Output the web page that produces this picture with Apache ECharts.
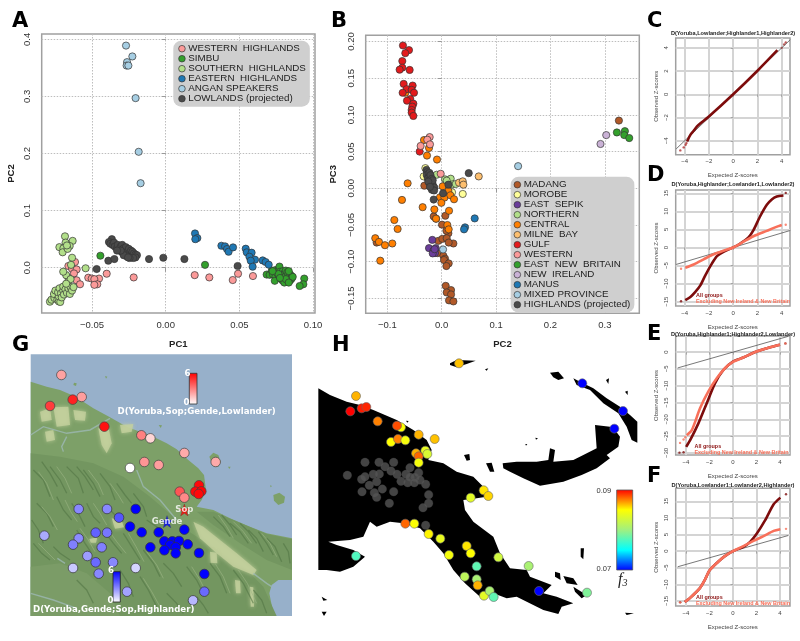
<!DOCTYPE html>
<html><head><meta charset="utf-8">
<style>html,body{margin:0;padding:0;background:#fff}#c{width:800px;height:641px}</style>
<script src="https://cdn.jsdelivr.net/npm/echarts@6/dist/echarts.min.js"></script>
</head><body><div id="c"></div>
<script>
// ---------- Panel A (PC1, PC2) ----------
const aWesternHighlands=[[-.0615,.01],[-.066,.003],[-.0635,-.002],[-.0604,-.003],[-.0622,-.01],[-.0604,-.022],[-.0581,-.029],[-.0525,-.0175],[-.0502,-.019],[-.0452,-.019],[-.0484,-.02],[-.0464,-.029],[-.0484,-.03],[-.04,-.0105],[-.0217,-.017],[.0197,-.013],[.0296,-.017],[.0455,-.0216],[.0491,-.0105],[.0592,-.0146]];
const aSimbu=[[-.0443,.021],[.0267,.005],[.094,-.019],[.0934,-.029],[.0909,-.032],[.0685,-.012],[.0705,-.0125],[.072,-.005],[.0735,-.008],[.0745,-.004],[.0728,-.012],[.0745,-.015],[.0755,-.009],[.0765,-.003],[.0772,.002],[.0775,-.007],[.078,-.013],[.0768,-.017],[.0785,-.02],[.074,-.023],[.0795,-.006],[.0805,-.01],[.081,-.016],[.0795,-.023],[.0815,-.005],[.0825,-.008],[.083,-.012],[.0835,-.016],[.0845,-.012],[.0855,-.015],[.0835,-.021],[.082,-.024],[.0805,-.026],[.0845,-.022],[.0855,-.019],[.0862,-.016],[.0765,-.011],[.0725,-.006],[.0835,-.006],[.0815,-.02],[.0775,-.018],[.0835,-.026]];
const aSouthernHighlands=[[-.0683,.055],[-.0679,.044],[-.0631,.047],[-.0651,.038],[-.0721,.036],[-.0694,.034],[-.0699,.027],[-.0665,.033],[-.067,.039],[-.0635,.0175],[-.0642,.005],[-.0543,-.001],[-.0785,-.0595],[-.0775,-.056],[-.0755,-.053],[-.0758,-.046],[-.0748,-.04],[-.0735,-.056],[-.0725,-.059],[-.0715,-.06],[-.0725,-.05],[-.073,-.043],[-.072,-.036],[-.071,-.045],[-.0705,-.052],[-.0695,-.04],[-.0695,-.033],[-.069,-.047],[-.068,-.038],[-.067,-.044],[-.066,-.036],[-.0665,-.027],[-.065,-.046],[-.0645,-.034],[-.0635,-.04],[-.066,-.018],[-.0675,-.013],[-.0645,-.02],[-.0695,-.007],[-.0625,-.034],[-.0675,-.028]];
const aEasternHighlands=[[.0199,.06],[.0215,.052],[.0201,.05],[.0378,.0385],[.0403,.0374],[.0416,.0327],[.0427,.028],[.0457,.0356],[.0543,.0333],[.055,.0269],[.0583,.0263],[.0568,.0193],[.0606,.014],[.0577,.0123],[.059,.0018],[.0658,.0128],[.0678,.01],[.0699,.0053]];
const aAnganSpeakers=[[-.0269,.389],[-.0226,.37],[-.0262,.36],[-.0265,.354],[-.0253,.354],[-.0204,.297],[-.0183,.203],[-.017,.148]];
const aLowlands=[[-.0468,-.0023],[-.0389,.0123],[-.0348,.0152],[-.0113,.0152],[-.0016,.0175],[.0127,.0152],[.0488,.003],[-.0365,.05],[-.0385,.045],[-.0375,.042],[-.036,.04],[-.035,.044],[-.0345,.037],[-.033,.034],[-.0325,.04],[-.0315,.031],[-.0305,.037],[-.03,.028],[-.0295,.04],[-.0285,.034],[-.028,.026],[-.0275,.031],[-.027,.036],[-.026,.028],[-.0255,.023],[-.025,.033],[-.0245,.026],[-.024,.02],[-.0235,.03],[-.023,.024],[-.0225,.028],[-.022,.021],[-.0215,.025],[-.0205,.023],[-.0195,.022],[-.0205,.018],[-.022,.017],[-.0245,.017],[-.0265,.02],[-.0285,.022],[-.0305,.03],[-.0255,.018],[-.033,.03]];
const aTicksX=[-0.05,0,0.05,0.1], aTicksY=[0,0.1,0.2,0.3,0.4];
// ---------- Panel B (PC2, PC3) ----------
const bMadang=[[.3258,.0923],[-.0319,.0036],[-.0147,-.0383],[-.0104,-.0414],[.0067,-.0374],[.0006,-.0495],[.0123,-.0613],[.0086,-.0578],[-.0061,-.0716],[.0012,-.0689],[.0092,-.068],[.0215,-.0752],[.0129,-.0739],[-.0074,-.0883],[.0031,-.0919],[.0061,-.0959],[.0043,-.0977],[.0129,-.1023],[.0086,-.1059],[.0074,-.1329],[.0172,-.1387],[.0092,-.1419],[.0172,-.1446],[.0135,-.1527],[.0215,-.1541],[-.1196,-.0739]];
const bMorobe=[[-.03,.0275],[-.0331,.0162],[.0387,-.0077],[.019,-.0054]];
const bEastSepik=[[-.0172,-.0703],[-.0233,-.0815],[-.011,-.0815],[-.0153,-.0851],[-.0123,-.0883],[-.0165,-.0887],[-.013,-.083]];
const bNorthern=[[-.0092,.0185],[.0061,.0122],[.0166,.0131],[.0196,.0054],[.0258,.0059],[.0092,.0105]];
const bCentral=[[-.0325,.0658],[-.0233,.055],[-.027,.0446],[-.0086,.0392],[-.0626,.0068],[-.073,-.0158],[-.035,-.0257],[-.0871,-.0432],[-.081,-.0554],[-.1221,-.068],[-.1153,-.073],[-.1043,-.0775],[-.0908,-.0752],[-.1129,-.0986],[.0018,.0027],[-.0031,-.0122],[.005,-.0127],[-.0006,-.0198],[-.0135,-.0288],[-.0104,-.0414],[.0135,-.0306],[.0123,-.0036],[.016,-.0095],[.0227,-.0149],[.0104,-.05],[.0129,-.0559],[-.0668,.1302]];
const bMilneBay=[[.0681,.0162],[.0319,.0077],[.0387,.0095],[.0399,.005]];
const bGulf=[[-.0405,.05],[-.0712,.1946],[-.0601,.1883],[-.0669,.1842],[-.0724,.1734],[-.0724,.1644],[-.0773,.1617],[-.0589,.1613],[-.0699,.1423],[-.0534,.14],[-.0644,.1351],[-.0552,.1342],[-.0718,.1302],[-.0509,.1302],[-.0577,.1216],[-.0638,.1194],[-.0521,.1153],[-.054,.1113],[-.0552,.1068],[-.0552,.1032],[-.0521,.0986]];
const bWestern=[[-.0221,.0698],[-.0264,.0662],[-.0215,.0599],[-.0387,.0577],[-.0018,.0198]];
const bEastNewBritain=[[.3221,.0761],[.3368,.0779],[.3356,.0725],[.3448,.0685]];
const bNewIreland=[[.3025,.0725],[.292,.0604]];
const bManus=[[.0607,-.041],[.0429,-.0532],[.0411,-.0559]];
const bMixedProvince=[[.1405,.0302],[.0025,-.0833]];
const bHighlands=[[.0497,.0207],[.0123,.005],[.0025,-.0068],[-.0147,-.0153],[-.028,.025],[-.0265,.022],[-.025,.019],[-.0275,.018],[-.024,.016],[-.0225,.021],[-.0215,.014],[-.0255,.013],[-.023,.011],[-.0205,.018],[-.02,.01],[-.022,.007],[-.0195,.006],[-.018,.013],[-.0175,.008],[-.02,.003],[-.018,.002],[-.016,.004],[-.0155,-.001],[-.0135,.001],[-.018,-.002],[-.014,-.003],[-.0165,.011],[-.0245,.009],[-.0215,.002]];
const bTicksX=[-0.1,0,0.1,0.2,0.3], bTicksY=[-0.15,-0.1,-0.05,0,0.05,0.1,0.15,0.2];
// ---------- Panels C-F (expected, observed Z) ----------
const zTicksX=[-4,-2,0,2,4];
const cRef=[[-4.7,-4.7],[4.7,4.7]];
const cAll=[[-3.8,-4.06],[-3.53,-3.49],[-3.26,-3.14],[-2.99,-2.77],[-2.03,-1.94],[0,0],[2,2.03],[3.64,3.8]];
const cTail=[[-4.36,-4.83],[-4.08,-4.57],[-3.92,-4.34],[-3.85,-4.2],[4,4],[4.2,4.3],[4.33,4.46]];
const dAll=[[-3.95,-14.6],[-3.53,-13.7],[-3.12,-12.3],[-2.71,-10.5],[-2.3,-7.7],[-1.75,-4.4],[-1.34,-2.4],[-.8,-1.2],[0,0],[.58,1.1],[1.26,2.8],[1.67,4.8],[2.2,8.5],[2.77,11.8],[3.18,13.3],[3.59,14.1],[4.14,14.4]];
const dAllTail=[[-4.3,-14.9],[4.33,15.1]];
const dExcl=[[-3.95,-5.6],[-3.26,-4.7],[-2.44,-3.3],[-1.75,-2.1],[-.8,-.9],[0,0],[.85,1.6],[1.67,3.1],[2.77,4.6],[3.73,5.9],[4,6.2]];
const dExclTail=[[-4.3,-5.9],[4.33,6.3]];
const eAll=[[-3.98,-28.2],[-3.64,-26.2],[-2.94,-21.2],[-2.23,-15.2],[-1.53,-9.3],[-.82,-5.3],[0,-2.8],[.88,-1.6],[2,.2],[3.42,1.7],[4,2.2]];
const eAllTail=[[-4.55,-29.9],[-4.2,-29.8],[4.46,2.6]];
const eExcl=[[-3.93,-24.7],[-3.5,-23.2],[-2.8,-16.7],[-2.09,-11.7],[-1.38,-7.8],[-.68,-4.8],[0,-2.9],[.88,-1.6],[2,.2],[3.42,1.7],[4,2.2]];
const eExclTail=[[-4.5,-27],[-4.2,-26],[-4.05,-25.3],[4.46,2.6]];
const fAll=[[-4.1,-15.3],[-3.69,-14.2],[-2.83,-11.2],[-2.4,-8.7],[-1.97,-5.7],[-1.26,-3.2],[-.69,-1.5],[0,0],[.89,1.3],[1.46,2.8],[2.03,5.3],[2.74,9.3],[3.46,14.1],[4.03,16.1]];
const fAllTail=[[-4.49,-15.4],[4.51,17.1]];
const fExcl=[[-4.1,-15.3],[-3.69,-14.2],[-2.83,-11.2],[-2.4,-8.7],[-1.97,-5.7],[-1.26,-3.2],[-.69,-1.5],[0,0],[.89,1.5],[1.74,3.1],[2.6,4.5],[3.46,6.1],[4.03,6.6]];
const fExclTail=[[-4.49,-15.4],[4.51,6.7]];
// ---------- Panel G map values (map units, D statistic) ----------
const gLowlander=[[184,135,2.2],[245,201,2.3],[218,209,5.2],[150,228,4.6],[313,290,5.6],[424,316,3],[451,325,1],[553,369,2],[647,396,2],[433,396,2.5],[476,405,2.3],[390,414,0],[539,485,4],[553,503,2.8],[597,466,5.8],[586,485,5.8],[604,484,5.9],[596,492,5.8]];
const gHighlander=[[236,537,2.8],[321,537,2.8],[357,563,4],[407,537,6],[133,617,2],[236,625,2.7],[219,644,3],[287,608,3.7],[321,608,3.2],[305,652,3],[390,590,6],[425,607,6],[476,607,6],[553,599,6],[493,634,6],[517,634,6],[537,633,6],[510,645,6],[563,643,6],[451,652,6],[493,661,6],[527,652,6],[527,670,6],[597,669,6],[262,678,2.3],[287,697,3.5],[339,697,2.8],[219,714,1.3],[296,731,2.8],[407,714,1],[613,732,6],[381,785,2.2],[613,785,3.5],[579,811,1.7]];
const gSop=[[553,540]], gGende=[[501,575]];
const gLand=[
 [[92,155],[140,170],[180,180],[215,195],[250,215],[280,235],[330,262],[380,290],[420,305],[460,320],[500,340],[530,358],[565,390],[595,415],[612,435],[618,480],[605,510],[590,530],[640,540],[690,565],[750,590],[800,610],[876,625],[876,750],[835,750],[815,765],[808,790],[815,825],[820,858],[92,858]],
 [[628,380],[640,368],[655,375],[662,395],[655,410],[638,408]],
 [[820,495],[838,488],[855,500],[852,518],[835,525],[822,512]],
 [[222,158],[230,160],[228,168],[220,165]],[[315,138],[322,140],[318,146]],[[476,285],[486,286],[482,294]],[[684,410],[692,410],[688,417]],[[810,466],[816,468],[812,472]]];
const gMountain=[[[92,370],[180,380],[280,400],[370,440],[450,500],[520,560],[560,600],[620,640],[720,700],[790,770],[830,858],[92,858]],[[640,545],[700,570],[800,612],[876,628],[876,720],[800,690],[720,640],[640,585],[590,545]]];
const gPlain=[[[92,710],[180,700],[260,730],[330,790],[360,858],[92,858]]];
const gLight=[[[120,245],[150,235],[155,270],[125,275]],[[160,232],[205,230],[210,285],[170,290]],[[220,240],[258,245],[255,272],[225,270]],[[135,305],[160,300],[165,330],[140,335]],[[295,295],[325,290],[335,340],[320,370],[305,345]],[[360,285],[400,282],[395,305],[365,310]],[[580,575],[610,590],[660,630],[710,670],[770,720],[760,735],[700,710],[650,670],[600,625]],[[335,565],[365,572],[372,592],[345,596]],[[268,627],[292,622],[288,638],[272,638]],[[630,665],[650,668],[652,700],[632,698]],[[705,750],[720,752],[722,790],[708,790]],[[750,770],[760,772],[762,830],[752,830]]];
const gRivers=[[[92,315],[130,290],[200,310],[270,300],[330,265]],[[410,420],[430,470],[480,510],[530,570]],[[200,320],[185,350],[190,365]],[[172,685],[195,700]],[[92,790],[160,810],[230,835]],[[760,730],[800,760],[815,770]]];
const gRidges=[[[100,420],[130,450],[150,500]],[[125,395],[150,430],[172,470]],[[150,410],[180,450],[200,490]],[[200,410],[235,445],[250,490]],[[230,410],[255,440],[280,480]],[[250,420],[280,460],[300,500]],[[300,430],[330,470],[345,510]],[[350,460],[375,495],[395,520]],[[400,490],[430,530],[440,560]],[[110,520],[140,550],[160,590]],[[95,570],[115,600],[130,640]],[[170,500],[190,540],[215,570]],[[215,520],[235,550],[255,590]],[[260,520],[280,560],[300,580]],[[320,530],[345,555],[370,575]],[[440,570],[470,590],[490,610]],[[100,640],[125,670],[150,690]],[[160,650],[180,670],[210,690]],[[230,600],[255,640],[275,670]],[[310,600],[340,640],[365,670]],[[370,610],[395,650],[420,690]],[[430,660],[460,700],[480,740]],[[490,700],[520,730],[545,770]],[[560,710],[590,750],[610,790]],[[630,700],[660,740],[680,790]],[[700,720],[730,760],[760,820]],[[760,780],[785,810],[800,850]],[[420,740],[445,780],[470,830]],[[500,790],[530,820],[550,850]],[[640,560],[670,590],[690,620]],[[665,555],[690,585],[710,615]],[[690,580],[720,605],[745,640]],[[720,580],[745,605],[770,640]],[[745,600],[770,625],[790,665]],[[775,605],[800,640],[820,675]],[[800,625],[825,650],[845,695]],[[850,640],[865,665],[870,700]],[[590,800],[610,825],[625,850]],[[360,720],[385,760],[400,800]],[[230,750],[260,780],[280,820]]];
const gHighlights=[[[115,425],[140,460],[160,510]],[[170,410],[195,445],[215,490]],[[265,420],[295,460],[310,495]],[[330,460],[355,495],[370,520]],[[125,530],[150,560],[172,600]],[[195,510],[212,545],[232,575]],[[280,520],[300,550],[320,585]],[[115,640],[140,665],[165,690]],[[240,595],[265,630],[285,665]],[[325,600],[350,635],[378,670]],[[385,610],[408,650],[432,695]],[[440,665],[470,705],[490,745]],[[575,710],[600,750],[620,790]],[[645,700],[670,740],[690,790]],[[715,720],[742,760],[770,820]],[[655,555],[680,590],[700,625]],[[700,575],[730,605],[755,640]],[[785,610],[810,640],[830,680]],[[430,745],[455,785],[480,830]]];
// ---------- Panel H map values (map units, f3) ----------
const hLand=[
 [[25,145],[60,165],[110,185],[150,195],[190,210],[225,225],[260,240],[310,270],[350,300],[365,330],[355,360],[400,370],[440,395],[490,410],[520,440],[530,470],[500,475],[460,480],[465,510],[490,545],[530,575],[550,590],[570,640],[600,685],[650,690],[660,710],[725,735],[700,760],[740,770],[790,790],[755,800],[745,822],[700,810],[620,770],[590,775],[550,760],[510,770],[465,730],[430,690],[400,640],[370,605],[330,565],[280,550],[240,545],[200,560],[180,545],[160,590],[120,600],[55,605],[80,615],[130,630],[165,650],[130,680],[90,695],[50,690],[25,690]],
 [[578,370],[620,365],[680,365],[715,360],[720,325],[735,330],[730,365],[790,360],[820,345],[860,325],[855,255],[900,260],[915,270],[930,290],[925,320],[890,345],[900,355],[860,385],[815,405],[760,425],[690,437],[640,415],[600,395],[580,385]],
 [[790,115],[810,125],[850,145],[890,175],[930,200],[960,225],[982,245],[982,308],[965,300],[950,260],[925,220],[880,190],[840,150],[800,135]],
 [[420,70],[440,60],[497,62],[470,72],[440,82],[420,75]],
 [[720,98],[745,95],[762,115],[745,120],[730,112]],[[462,345],[478,342],[480,360],[470,362]],[[528,370],[545,368],[553,395],[540,395]],[[812,625],[822,625],[820,658],[812,650]],[[735,695],[750,700],[752,720],[735,710]],[[760,708],[790,715],[803,735],[770,730]],[[790,740],[830,765],[815,775],[795,755]],[[945,818],[972,820],[950,825]],[[35,770],[52,780],[40,782]],[[35,815],[50,815],[42,828]],[[888,120],[897,115],[895,132]],[[945,155],[953,152],[953,165]],[[525,88],[535,85],[530,92]],[[288,242],[296,243],[292,248]],[[646,312],[652,312],[648,317]],[[676,293],[684,295],[678,299]]];
const hNoData=[[165,367],[207,367],[251,367],[225,380],[243,393],[300,383],[112,406],[165,410],[155,418],[190,403],[208,402],[261,403],[288,403],[326,398],[178,436],[200,425],[273,424],[293,428],[300,412],[315,412],[330,420],[313,428],[347,433],[156,455],[193,458],[217,447],[251,455],[200,472],[356,464],[238,490],[356,490],[339,503],[347,556]];
const hF3=[[138,168,.0865],[121,214,.09],[155,205,.0895],[169,201,.0893],[203,244,.0875],[273,262,.0848],[261,257,.0885],[243,306,.085],[264,297,.0875],[286,301,.0845],[326,284,.0865],[374,297,.0862],[318,340,.0865],[346,332,.0838],[326,349,.088],[352,342,.083],[326,368,.0845],[447,70,.0862],[521,451,.0855],[535,468,.0858],[482,473,.0835],[286,551,.088],[313,551,.0848],[356,582,.0852],[391,596,.0838],[417,645,.0845],[470,618,.0855],[482,640,.085],[565,652,.0825],[500,679,.078],[656,678,.0805],[464,710,.0815],[500,718,.0805],[503,736,.0865],[522,767,.0835],[539,753,.0805],[551,771,.078],[138,648,.0775],[831,758,.079],[687,753,.07],[817,130,.07],[939,213,.07],[913,266,.07]];
const f3Colors=['#0000ff','#00ffff','#a0f080','#ffff00','#ff0000'];

// ---------- helpers ----------
const SANS='"Liberation Sans",Arial,sans-serif', DJ='"DejaVu Sans",sans-serif';
const minus=s=>String(s).replace('-','\u2212');
function pcAxis(min,max,ticks,dec,name,gap,isY){
  return {type:'value',min,max,name,nameLocation:'middle',nameGap:gap,nameRotate:isY?90:0,
    nameTextStyle:{fontFamily:SANS,fontWeight:'bold',fontSize:9.5,color:'#222'},
    axisLine:{show:false},
    axisTick:{show:true,length:4,customValues:ticks,lineStyle:{color:'#999',width:1}},
    axisLabel:{show:true,customValues:ticks,rotate:isY?90:0,margin:isY?9:7,fontFamily:SANS,fontSize:9.5,color:'#333',
      hideOverlap:false,formatter:v=>minus(v.toFixed(dec))},
    splitLine:{show:true,lineStyle:{color:'#bdbdbd',type:[1.5,1.5],width:1}}};
}
function zAxis(min,max,ticks,name,gap,isY){
  return {type:'value',min,max,name,nameLocation:'middle',nameGap:gap,nameRotate:isY?90:0,
    nameTextStyle:{fontFamily:SANS,fontSize:6,color:'#444'},
    axisLine:{show:false},
    axisTick:{show:true,length:2.5,customValues:ticks,lineStyle:{color:'#999',width:.8}},
    axisLabel:{show:true,customValues:ticks,rotate:isY?90:0,margin:isY?6:4,fontFamily:SANS,fontSize:6,color:'#444',
      hideOverlap:false,formatter:v=>minus(v)},
    splitLine:{show:true,lineStyle:{color:'#d4d4d4',width:2}}};
}
function hiddenAxis(min,max,inverse){return {type:'value',min,max,inverse:!!inverse,show:false,splitLine:{show:false}};}
function box(left,right,top,bottom,w){return {left,top,width:right-left,height:bottom-top,show:true,borderColor:'#a0a0a0',borderWidth:w||1.5,backgroundColor:'transparent'};}
function dots(i,name,data,color){return {type:'scatter',name,xAxisIndex:i,yAxisIndex:i,data,symbolSize:7.2,silent:true,
  itemStyle:{color,borderColor:'#333',borderWidth:.7,opacity:1}};}
function poly(i,polys,fill,z,blur,op){return {type:'custom',xAxisIndex:i,yAxisIndex:i,silent:true,clip:true,z,data:polys.map((p,k)=>[k]),
  encode:{x:-1,y:-1},
  renderItem:(p,api)=>({type:'polygon',shape:{points:polys[p.dataIndex].map(q=>api.coord(q))},
    style:{fill,opacity:op||1,shadowBlur:blur||0,shadowColor:blur?fill:'transparent'}})};}
function lines(i,paths,stroke,width,z,op){return {type:'custom',xAxisIndex:i,yAxisIndex:i,silent:true,clip:true,z,data:paths.map((p,k)=>[k]),
  encode:{x:-1,y:-1},
  renderItem:(p,api)=>({type:'polyline',shape:{points:paths[p.dataIndex].map(q=>api.coord(q))},
    style:{stroke,lineWidth:width,fill:null,opacity:op||.75}})};}
const DARK='#7d0c0c', SALMON='#f8705a', REFLINE='#555';
function zLine(i,data,color,w){return {type:'line',xAxisIndex:i,yAxisIndex:i,data,showSymbol:false,silent:true,smooth:w?false:.25,lineStyle:{color,width:w||2.6}};}
function zTail(i,data,color){return {type:'scatter',xAxisIndex:i,yAxisIndex:i,data,symbolSize:2.4,silent:true,itemStyle:{color}};}
function txt(x,y,text,o){return {type:'text',silent:true,z:50,style:Object.assign({x,y,text,textAlign:'left',textVerticalAlign:'middle',fill:'#111',fontFamily:SANS,fontSize:6},o||{})};}
function letter(x,y,t){return txt(x,y,t,{fontSize:21,fontWeight:'bold',fill:'#000',fontFamily:DJ});}

const grids=[box(41.7,315,34,313),box(365.7,639.3,35.3,313.3),
 box(675.7,790,38,154.7),box(675.7,790,190,306),box(675.7,790,336,455),box(675.7,790,488.3,606),
 {left:30.7,top:354.3,width:261.3,height:261.7,show:true,backgroundColor:'#97b0ca',borderWidth:0},{left:310,top:340,width:330,height:300}];

const xAxes=[pcAxis(-0.0841,0.1013,aTicksX,2,'PC1',26),pcAxis(-0.1397,0.3633,bTicksX,1,'PC2',26),
 zAxis(-4.74,4.68,zTicksX,'Expected Z-scores',18),zAxis(-4.74,4.68,zTicksX,'Expected Z-scores',18),
 zAxis(-4.87,4.85,zTicksX,'Expected Z-scores',18),zAxis(-4.87,4.85,zTicksX,'Expected Z-scores',18),
 hiddenAxis(92,876),hiddenAxis(0,990)].map((a,i)=>Object.assign(a,{gridIndex:i}));
const yAxes=[pcAxis(-0.0793,0.4093,aTicksY,1,'PC2',25,true),pcAxis(-0.1703,0.2085,bTicksY,2,'PC3',27,true),
 zAxis(-5.2,4.85,[-4,-2,0,2,4],'Observed Z-scores',16,true),
 zAxis(-16.2,15.9,[-15,-10,-5,0,5,10,15],'Observed Z-scores',16,true),
 zAxis(-30.6,4.8,[-30,-25,-20,-15,-10,-5,0],'Observed Z-scores',16,true),
 zAxis(-16.5,18.9,[-15,-10,-5,0,5,10,15],'Observed Z-scores',16,true),
 hiddenAxis(73,858,true),hiddenAxis(0,900,true)].map((a,i)=>Object.assign(a,{gridIndex:i}));

const aColors={w:'#fb9a99',s:'#33a02c',so:'#b2df8a',e:'#1f78b4',a:'#a6cee3',l:'#4a4a4a'};
const series=[
 dots(0,'WESTERN  HIGHLANDS',aWesternHighlands,aColors.w),
 dots(0,'SIMBU',aSimbu,aColors.s),
 dots(0,'SOUTHERN  HIGHLANDS',aSouthernHighlands,aColors.so),
 dots(0,'EASTERN  HIGHLANDS',aEasternHighlands,aColors.e),
 dots(0,'ANGAN SPEAKERS',aAnganSpeakers,aColors.a),
 dots(0,'LOWLANDS (projected)',aLowlands,aColors.l),
 dots(1,'MADANG',bMadang,'#b15928'),
 dots(1,'MOROBE',bMorobe,'#ffff99'),
 dots(1,'EAST  SEPIK',bEastSepik,'#6a3d9a'),
 dots(1,'NORTHERN',bNorthern,'#b2df8a'),
 dots(1,'CENTRAL',bCentral,'#ff7f00'),
 dots(1,'MILNE  BAY',bMilneBay,'#fdbf6f'),
 dots(1,'GULF',bGulf,'#e31a1c'),
 dots(1,'WESTERN',bWestern,'#fb9a99'),
 dots(1,'EAST  NEW  BRITAIN',bEastNewBritain,'#33a02c'),
 dots(1,'NEW  IRELAND',bNewIreland,'#cab2d6'),
 dots(1,'MANUS',bManus,'#1f78b4'),
 dots(1,'MIXED PROVINCE',bMixedProvince,'#a6cee3'),
 dots(1,'HIGHLANDS (projected)',bHighlands,'#4a4a4a'),
 zLine(2,cRef,REFLINE,.8),zLine(2,cAll,DARK),zTail(2,cTail,'#b03030'),
 zLine(3,cRef,REFLINE,.8),zLine(3,dAll,DARK),zTail(3,dAllTail,DARK),zLine(3,dExcl,SALMON),zTail(3,dExclTail,SALMON),
 zLine(4,cRef,REFLINE,.8),zLine(4,eAll,DARK),zTail(4,eAllTail,DARK),zLine(4,eExcl,SALMON),zTail(4,eExclTail,SALMON),
 zLine(5,cRef,REFLINE,.8),zLine(5,fAll,DARK),zTail(5,fAllTail,DARK),zLine(5,fExcl,SALMON),zTail(5,fExclTail,SALMON),
 poly(6,gLand,'#7da068',1),poly(6,gMountain,'#739660',2),poly(6,gPlain,'#7b9c67',3),poly(6,gLight,'#c4d19d',4,4,.8),
 lines(6,gRivers,'#9fb9b8',1.4,5),lines(6,gRidges,'#517545',1.3,5,.6),lines(6,gHighlights,'#9cb685',1,5,.6)
];
const idxG1=series.length;
series.push({type:'scatter',xAxisIndex:6,yAxisIndex:6,data:gLowlander,symbolSize:9.6,silent:true,z:6,itemStyle:{borderColor:'#444',borderWidth:.7,opacity:1}});
const idxG2=series.length;
series.push({type:'scatter',xAxisIndex:6,yAxisIndex:6,data:gHighlander,symbolSize:9.6,silent:true,z:6,itemStyle:{borderColor:'#333',borderWidth:.7,opacity:1}});
const STAR='path://M0,-10 L2.4,-3.2 9.5,-3.1 3.8,1.2 5.9,8.1 0,4 -5.9,8.1 -3.8,1.2 -9.5,-3.1 -2.4,-3.2 Z';
const gLabel=t=>({show:true,position:'inside',formatter:t,color:'#fff',fontFamily:DJ,fontWeight:'bold',fontSize:8.5});
series.push({type:'scatter',xAxisIndex:6,yAxisIndex:6,data:gSop,symbol:STAR,symbolSize:12,silent:true,z:7,itemStyle:{color:'#f00',borderColor:'#533',borderWidth:.4},label:gLabel('Sop')});
series.push({type:'scatter',xAxisIndex:6,yAxisIndex:6,data:gGende,symbol:STAR,symbolSize:12,silent:true,z:7,itemStyle:{color:'#00f',borderColor:'#335',borderWidth:.4},label:gLabel('Gende')});
series.push(poly(7,hLand,'#000',1));
series.push({type:'scatter',xAxisIndex:7,yAxisIndex:7,data:hNoData,symbolSize:8.5,silent:true,z:3,itemStyle:{color:'#555',borderColor:'#444',borderWidth:.4}});
const idxH=series.length;
series.push({type:'scatter',xAxisIndex:7,yAxisIndex:7,data:hF3,symbolSize:9,silent:true,z:4,itemStyle:{borderColor:'#666',borderWidth:.6,opacity:1}});

const legendBase={orient:'vertical',icon:'circle',selectedMode:false,backgroundColor:'#cfcfcf',borderRadius:8,
 itemWidth:6.6,itemHeight:6.6,itemGap:0,itemStyle:{borderColor:'#333',borderWidth:.7},
 textStyle:{fontFamily:SANS,fontSize:9.8,color:'#222',lineHeight:10,height:10,padding:[0,0,0,-2]},z:20};
const legends=[
 Object.assign({},legendBase,{left:173.3,top:40.7,padding:[3,4,3,5],
   data:['WESTERN  HIGHLANDS','SIMBU','SOUTHERN  HIGHLANDS','EASTERN  HIGHLANDS','ANGAN SPEAKERS','LOWLANDS (projected)']}),
 Object.assign({},legendBase,{left:510.7,top:176.7,padding:[3,4,3,3],
   data:['MADANG','MOROBE','EAST  SEPIK','NORTHERN','CENTRAL','MILNE  BAY','GULF','WESTERN','EAST  NEW  BRITAIN','NEW  IRELAND','MANUS','MIXED PROVINCE','HIGHLANDS (projected)']})
];

const grad=(stops)=>new echarts.graphic.LinearGradient(0,0,0,1,stops.map((c,i)=>({offset:i/(stops.length-1),color:c})));
const gTxt={fill:'#fff',fontFamily:DJ,fontWeight:'bold',fontSize:8.6};
const bold55={fontWeight:'bold',fontSize:5.6,fill:'#222',textAlign:'center'};
const redL={fontWeight:'bold',fontSize:5.4,fill:'#8b1010'}, salL={fontWeight:'bold',fontSize:5.4,fill:SALMON};
const graphics=[
 letter(12,22,'A'),letter(331,22,'B'),letter(647,22,'C'),letter(647,176,'D'),letter(647,335,'E'),letter(647,477,'F'),letter(12,346,'G'),letter(332,346,'H'),
 txt(733,33.5,'D(Yoruba,Lowlander;Highlander1,Highlander2)',bold55),
 txt(733,184,'D(Yoruba,Highlander;Lowlander1,Lowlander2)',bold55),
 txt(733,334.7,'D(Yoruba,Highlander1;Highlander2,Lowlander)',bold55),
 txt(733,485,'D(Yoruba,Lowlander1;Lowlander2,Highlander)',bold55),
 txt(696,296,'All groups',redL),txt(696,301.5,'Excluding New Ireland & New Britain',salL),
 txt(694.5,447,'All groups',redL),txt(694.5,453,'Excluding New Ireland & New Britain',salL),
 txt(696,598,'All groups',redL),txt(696,603.5,'Excluding New Ireland & New Britain',salL),
 {type:'rect',z:40,silent:true,shape:{x:189.3,y:373.3,width:7.7,height:30.7},style:{fill:grad(['#ff0000','#ffffff']),stroke:'#333',lineWidth:.8}},
 {type:'rect',z:40,silent:true,shape:{x:113,y:571.7,width:7.3,height:30.3},style:{fill:grad(['#0000ff','#ffffff']),stroke:'#222',lineWidth:.8}},
 txt(184.5,373.5,'6',gTxt),txt(183.5,402.5,'0',gTxt),txt(108,571.2,'6',gTxt),txt(107.5,600.5,'0',gTxt),
 txt(117.5,411.7,'D(Yoruba,Sop;Gende,Lowlander)',gTxt),txt(33,610,'D(Yoruba,Gende;Sop,Highlander)',gTxt),
 {type:'rect',z:40,silent:true,shape:{x:616.7,y:490,width:16,height:80},style:{fill:grad(f3Colors.slice().reverse()),stroke:'#555',lineWidth:.8}},
 txt(596.5,490.7,'0.09',{fontSize:7.5,fill:'#333'}),txt(596.5,568.7,'0.07',{fontSize:7.5,fill:'#333'}),
 {type:'text',silent:true,z:40,style:{x:618,y:572,text:'{a|f}{b|3}',rich:{a:{fontFamily:'"Liberation Serif",serif',fontStyle:'italic',fontSize:16,fill:'#222',verticalAlign:'top'},b:{fontFamily:'"Liberation Serif",serif',fontStyle:'italic',fontSize:10,fill:'#222',padding:[6,0,0,0]}}}}
];

const chart=echarts.init(document.getElementById('c'),null,{renderer:'canvas',width:800,height:641});
chart.setOption({animation:false,backgroundColor:'#fff',grid:grids,xAxis:xAxes,yAxis:yAxes,legend:legends,series,graphic:graphics,
 visualMap:[
  {type:'continuous',show:false,seriesIndex:idxG1,dimension:2,min:0,max:6,inRange:{color:['#ffffff','#ff0000']}},
  {type:'continuous',show:false,seriesIndex:idxG2,dimension:2,min:0,max:6,inRange:{color:['#ffffff','#0000ff']}},
  {type:'continuous',show:false,seriesIndex:idxH,dimension:2,min:.07,max:.09,inRange:{color:f3Colors}}
 ]});
</script></body></html>
